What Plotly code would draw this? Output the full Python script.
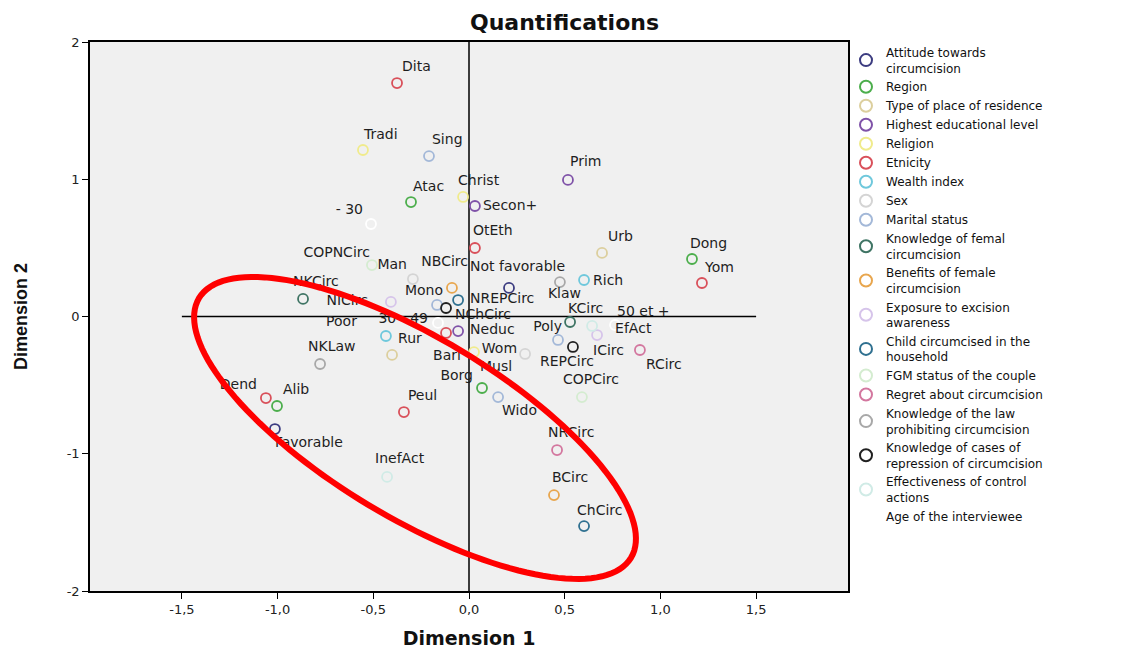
import numpy as np
import plotly.graph_objects as go

# ---------------- data ----------------
group_names = [
    "Attitude towards<br>circumcision", "Region", "Type of place of residence",
    "Highest educational level", "Religion", "Etnicity", "Wealth index", "Sex",
    "Marital status", "Knowledge of femal<br>circumcision",
    "Benefits of female<br>circumcision", "Exposure to excision<br>awareness",
    "Child circumcised in the<br>household", "FGM status of the couple",
    "Regret about circumcision", "Knowledge of the law<br>prohibiting circumcision",
    "Knowledge of cases of<br>repression of circumcision",
    "Effectiveness of control<br>actions", "Age of the interviewee",
]

categories = [
    "Favorable", "Not favorable",
    "Atac", "Dong", "Alib", "Borg",
    "Urb", "Rur",
    "Neduc", "Prim", "Secon+",
    "Tradi", "Christ", "Musl",
    "Dita", "Dend", "Peul", "Bari", "Yom", "OtEth",
    "Poor", "Rich",
    "Man", "Wom",
    "Sing", "Mono", "Poly", "Wido",
    "KCirc", "NKCirc",
    "BCirc", "NBCirc",
    "ICirc", "NICirc",
    "ChCirc", "NChCirc",
    "COPCirc", "COPNCirc",
    "RCirc", "NRCirc",
    "Klaw", "NKLaw",
    "REPCirc", "NREPCirc",
    "EfAct", "InefAct",
    "- 30", "30 - 49", "50 et +",
]

category_group = [
    0, 0,
    1, 1, 1, 1,
    2, 2,
    3, 3, 3,
    4, 4, 4,
    5, 5, 5, 5, 5, 5,
    6, 6,
    7, 7,
    8, 8, 8, 8,
    9, 9,
    10, 10,
    11, 11,
    12, 12,
    13, 13,
    14, 14,
    15, 15,
    16, 16,
    17, 17,
    18, 18, 18,
]

dim1 = [
    -1.014, 0.209,
    -0.303, 1.165, -1.003, 0.068,
    0.695, -0.402,
    -0.057, 0.517, 0.031,
    -0.554, -0.031, 0.026,
    -0.376, -1.061, -0.340, -0.120, 1.217, 0.031,
    -0.434, 0.601,
    -0.293, 0.293,
    -0.209, -0.167, 0.465, 0.152,
    0.528, -0.867,
    0.444, -0.089,
    0.669, -0.408,
    0.601, -0.057,
    0.590, -0.507,
    0.893, 0.460,
    0.475, -0.778,
    0.543, -0.120,
    0.643, -0.428,
    -0.512, -0.162, 0.763,
]

dim2 = [
    -0.820, 0.208,
    0.834, 0.419, -0.652, -0.521,
    0.463, -0.280,
    -0.106, 0.995, 0.805,
    1.213, 0.871, -0.259,
    1.701, -0.594, -0.696, -0.120, 0.244, 0.499,
    -0.142, 0.266,
    0.273, -0.273,
    1.169, 0.084, -0.171, -0.587,
    -0.040, 0.128,
    -1.301, 0.208,
    -0.135, 0.106,
    -1.527, 0.120,
    -0.587, 0.375,
    -0.244, -0.973,
    0.251, -0.346,
    -0.222, 0.062,
    -0.069, -1.169,
    0.674, -0.047, -0.062,
]

x_tick_values = [-1.5, -1.0, -0.5, 0.0, 0.5, 1.0, 1.5]
x_tick_text = ["-1,5", "-1,0", "-0,5", "0,0", "0,5", "1,0", "1,5"]
y_tick_values = [-2, -1, 0, 1, 2]
y_tick_text = ["-2", "-1", "0", "1", "2"]

# ---------------- style ----------------
group_colors = [
    "#3c3c80", "#4cae4c", "#dccf9e", "#7f52a8", "#f0eb8c", "#d9505a",
    "#6fc8dc", "#d4d4d4", "#a3b8d8", "#3f7464", "#e8a64e", "#d6c4ea",
    "#2f7090", "#d4ecd0", "#d3779f", "#a8a8a8", "#202020", "#d0ebe6",
    "#ffffff",
]

# label placement: (anchor side, dx px, dy px up)
label_place = {
    "Favorable": ("left", 0, -14), "Not favorable": ("left", -39, 20),
    "Atac": ("left", 2, 15), "Dong": ("left", -2, 14), "Alib": ("left", 6, 15),
    "Borg": ("right", -9, 12), "Urb": ("left", 6, 15), "Rur": ("left", 6, 15),
    "Neduc": ("left", 12, 1), "Prim": ("left", 2, 17), "Secon+": ("left", 8, 0),
    "Tradi": ("left", 1, 15), "Christ": ("left", -5, 15), "Musl": ("left", 6, -15),
    "Dita": ("left", 5, 16), "Dend": ("right", -9, 13), "Peul": ("left", 4, 16),
    "Bari": ("center", 1, -24), "Yom": ("left", 3, 15), "OtEth": ("left", -2, 17),
    "Poor": ("right", -29, 13), "Rich": ("left", 9, -2),
    "Man": ("right", -6, 14), "Wom": ("right", -8, 4),
    "Sing": ("left", 3, 16), "Mono": ("right", 6, 13), "Poly": ("right", 4, 12),
    "Wido": ("left", 4, -14),
    "KCirc": ("left", -2, 12), "NKCirc": ("left", -10, 16),
    "BCirc": ("left", -2, 17), "NBCirc": ("right", 16, 25),
    "ICirc": ("left", -4, -16), "NICirc": ("right", -23, 0),
    "ChCirc": ("left", -7, 15), "NChCirc": ("left", -3, -15),
    "COPCirc": ("left", -19, 17), "COPNCirc": ("right", -2, 12),
    "RCirc": ("left", 6, -16), "NRCirc": ("left", -9, 17),
    "Klaw": ("left", -12, -12), "NKLaw": ("left", -12, 16),
    "REPCirc": ("center", -6, -16), "NREPCirc": ("left", 24, 8),
    "EfAct": ("left", 23, -4), "InefAct": ("left", -12, 17),
    "- 30": ("right", -8, 13), "30 - 49": ("right", -10, 3), "50 et +": ("left", 2, 13),
}

# the page adds an 8 px body margin, so the figure is sized to fill the window
FIG_W, FIG_H = 1113, 641
ML, MR, MT, MB = 82, 273, 34, 58
X_RANGE = [-1.98, 1.98]
Y_RANGE = [-2.0, 2.0]
PLOT_W = FIG_W - ML - MR
PLOT_H = FIG_H - MT - MB
x_scale = PLOT_W / (X_RANGE[1] - X_RANGE[0])   # px per unit
y_scale = PLOT_H / (Y_RANGE[1] - Y_RANGE[0])

FONT = "DejaVu Sans"

fig = go.Figure()

d1 = np.array(dim1)
d2 = np.array(dim2)
grp = np.array(category_group)

for g, name in enumerate(group_names):
    idx = np.where(grp == g)[0]
    fig.add_trace(go.Scatter(
        x=d1[idx], y=d2[idx], mode="markers", name=name,
        marker=dict(symbol="circle-open", size=10, color=group_colors[g],
                    line=dict(width=1.8, color=group_colors[g])),
        hovertext=[categories[i] for i in idx], hoverinfo="text",
    ))

# point labels
pos_map = {"left": "middle right", "right": "middle left", "center": "middle center"}
lx, ly, lpos = [], [], []
for i, c in enumerate(categories):
    side, dx, dy = label_place[c]
    lx.append(dim1[i] + dx / x_scale)
    ly.append(dim2[i] + dy / y_scale)
    lpos.append(pos_map[side])

fig.add_trace(go.Scatter(
    x=lx, y=ly, mode="text", text=categories, textposition=lpos,
    textfont=dict(family=FONT, size=14, color="#1e1e1e"),
    marker=dict(size=1), showlegend=False, hoverinfo="skip",
))

# reference lines through the origin
fig.add_shape(type="line", x0=-1.5, x1=1.5, y0=0, y1=0, xref="x", yref="y",
              line=dict(color="black", width=1.5), layer="below")
fig.add_shape(type="line", x0=0, x1=0, y0=Y_RANGE[0], y1=Y_RANGE[1], xref="x", yref="y",
              line=dict(color="black", width=1.5), layer="below")

# red hand-drawn highlight ellipse (centre in data units, axes in px)
ELL_CX, ELL_CY = -0.282, -0.812
ELL_A, ELL_B, ELL_ROT = 252, 90, 31
t = np.linspace(0, 2 * np.pi, 145)
th = np.radians(ELL_ROT)
ex = ELL_CX + (ELL_A * np.cos(t) * np.cos(th) - ELL_B * np.sin(t) * np.sin(th)) / x_scale
ey = ELL_CY - (ELL_A * np.cos(t) * np.sin(th) + ELL_B * np.sin(t) * np.cos(th)) / y_scale
path = "M " + " L ".join(f"{a:.4f},{b:.4f}" for a, b in zip(ex, ey)) + " Z"
fig.add_shape(type="path", path=path, xref="x", yref="y",
              line=dict(color="#ff0000", width=6), layer="above")

fig.update_layout(
    width=FIG_W, height=FIG_H,
    margin=dict(l=ML, r=MR, t=MT, b=MB),
    paper_bgcolor="white", plot_bgcolor="#f0f0f0",
    title=dict(text="Quantifications", x=0.5, xref="container", xanchor="center",
               y=1 - 14 / FIG_H, yref="container", yanchor="middle",
               font=dict(family=FONT, size=22, color="#111", weight="bold")),
    showlegend=True,
    legend=dict(x=1 - 2 / PLOT_W, xanchor="left", y=1 + 4 / PLOT_H, yanchor="top",
                font=dict(family=FONT, size=12, color="#111"),
                bgcolor="rgba(0,0,0,0)", itemsizing="constant",
                tracegroupgap=0, maxheight=620),
    xaxis=dict(range=X_RANGE, tickvals=x_tick_values, ticktext=x_tick_text,
               automargin=False,
               showgrid=False, zeroline=False, ticks="outside", ticklen=6,
               tickcolor="black", showline=True, mirror=True, linecolor="black",
               linewidth=1.5, tickfont=dict(family=FONT, size=13, color="#222"),
               title=dict(text="Dimension 1", standoff=16,
                          font=dict(family=FONT, size=19, color="#111", weight="bold"))),
    yaxis=dict(range=Y_RANGE, tickvals=y_tick_values, ticktext=y_tick_text,
               automargin=False,
               showgrid=False, zeroline=False, ticks="outside", ticklen=6,
               tickcolor="black", showline=True, mirror=True, linecolor="black",
               linewidth=1.5, tickfont=dict(family=FONT, size=13, color="#222"),
               title=dict(text="Dimension 2", standoff=34,
                          font=dict(family="Liberation Sans", size=18, color="#111",
                                    weight="bold"))),
)

fig.write_html("out.html")
